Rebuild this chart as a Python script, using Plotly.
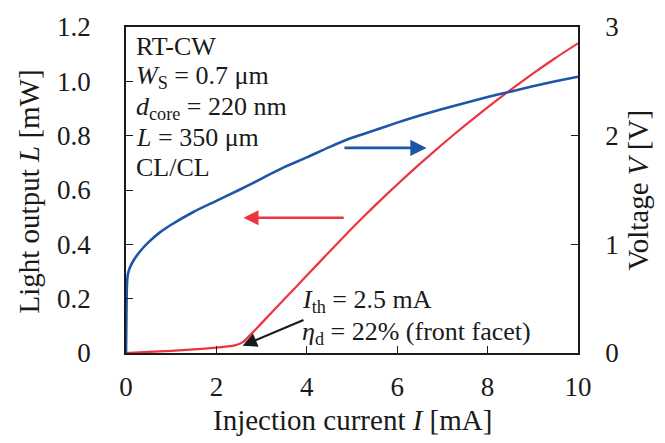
import plotly.graph_objects as go

# Light output L (left axis) vs injection current
current_L = [0, 0.5, 1.0, 1.5, 2.0, 2.3, 2.4, 2.5, 2.6, 2.7, 2.8, 3.0, 3.5, 4.0, 4.5, 5.0,
             5.5, 6.0, 6.5, 7.0, 7.5, 8.0, 8.5, 9.0, 9.5, 10.0]
light_L = [0, 0.004, 0.008, 0.013, 0.020, 0.025, 0.028, 0.033, 0.042, 0.058, 0.075, 0.110,
           0.198, 0.285, 0.373, 0.459, 0.5415, 0.6205, 0.696, 0.7685, 0.838, 0.9045, 0.968,
           1.0285, 1.086, 1.140]

# Voltage V (right axis) vs injection current
current_V = [0, 0.01, 0.02, 0.04, 0.08, 0.15, 0.3, 0.5, 0.75, 1.0, 1.5, 2.0, 2.5, 3.0, 3.5,
             4.0, 4.5, 5.0, 5.5, 6.0, 6.5, 7.0, 7.5, 8.0, 8.5, 9.0, 9.5, 10.0]
voltage_V = [0, 0.35, 0.62, 0.72, 0.78, 0.84, 0.93, 1.02, 1.11, 1.18, 1.30, 1.40, 1.50,
             1.605, 1.71, 1.80, 1.895, 1.98, 2.05, 2.12, 2.185, 2.245, 2.30, 2.355, 2.405,
             2.455, 2.50, 2.543]

x_ticks = [0, 2, 4, 6, 8, 10]
yL_ticks = [0, 0.2, 0.4, 0.6, 0.8, 1.0, 1.2]
yL_labels = ["0", "0.2", "0.4", "0.6", "0.8", "1.0", "1.2"]
yV_ticks = [0, 1, 2, 3]

RED = "#ee3340"
BLUE = "#1f55a8"
INK = "#1a1a1a"
FONT = "Liberation Serif, Times New Roman, serif"

fig = go.Figure()
fig.add_trace(go.Scatter(x=current_L, y=light_L, mode="lines",
                         line=dict(color=RED, width=2.2, shape="spline", smoothing=0.5),
                         yaxis="y", showlegend=False))
fig.add_trace(go.Scatter(x=current_V, y=voltage_V, mode="lines",
                         line=dict(color=BLUE, width=2.6, shape="spline", smoothing=0.7),
                         yaxis="y2", showlegend=False))

axis_common = dict(showline=True, linecolor=INK, linewidth=1.5, ticks="inside",
                   ticklen=7, tickwidth=1.3, tickcolor=INK, showgrid=False, zeroline=False,
                   tickfont=dict(family=FONT, size=27, color=INK))

W, H = 665, 443
l, r, t, b = 126, 87, 20, 90
pw, ph = W - l - r, H - t - b

fig.update_layout(
    width=W, height=H,
    margin=dict(l=l, r=r, t=t, b=b),
    paper_bgcolor="white", plot_bgcolor="white",
    xaxis=dict(range=[0, 10], tickvals=x_ticks, mirror=True, ticklabelstandoff=9,
               **axis_common),
    yaxis=dict(range=[0, 1.2], tickvals=yL_ticks, ticktext=yL_labels,
               ticklabelstandoff=28, **axis_common),
    yaxis2=dict(range=[0, 3], tickvals=yV_ticks, overlaying="y", side="right",
                ticklabelstandoff=20, **axis_common),
)

def px(xp): return (xp - l) / pw
def py(yp): return (H - b - yp) / ph

def txt(x, y, text, size=26):
    fig.add_annotation(x=x, y=y, xref="x", yref="y", text=text, showarrow=False,
                       xanchor="left", yanchor="middle",
                       font=dict(family=FONT, size=size, color=INK))

txt(0.17, 1.128, "RT-CW")
txt(0.17, 1.017, "<i>W</i><sub>S</sub> = 0.7 μm")
txt(0.17, 0.903, "<i>d</i><sub>core</sub> = 220 nm")
txt(0.17, 0.792, "<i>L</i> = 350 μm")
txt(0.17, 0.682, "CL/CL")
txt(3.85, 0.190, "<i>I</i><sub>th</sub> = 2.5 mA")
txt(3.85, 0.074, "<i>η</i><sub>d</sub> = 22% (front facet)")

def arrow(x, y, ax, ay, color, width, size):
    fig.add_annotation(x=x, y=y, ax=ax, ay=ay, xref="x", yref="y", axref="x", ayref="y",
                       text="", showarrow=True, arrowhead=2, arrowsize=size,
                       arrowwidth=width, arrowcolor=color, standoff=0)

arrow(6.65, 0.755, 4.8, 0.755, BLUE, 2.6, 1.25)
arrow(2.6, 0.498, 4.85, 0.498, RED, 2.4, 1.25)
arrow(2.58, 0.027, 3.96, 0.124, INK, 2.2, 1.3)

# axis titles
fig.add_annotation(x=px(352), y=py(421), xref="paper", yref="paper", showarrow=False,
                   text="Injection current <i>I</i> [mA]", xanchor="center", yanchor="middle",
                   font=dict(family=FONT, size=29, color=INK))
fig.add_annotation(x=px(29), y=py(188), xref="paper", yref="paper", showarrow=False,
                   text="Light output <i>L</i> [mW]", textangle=-90,
                   xanchor="center", yanchor="middle",
                   font=dict(family=FONT, size=29, color=INK))
fig.add_annotation(x=px(638), y=py(187), xref="paper", yref="paper", showarrow=False,
                   text="Voltage <i>V</i> [V]", textangle=-90,
                   xanchor="center", yanchor="middle",
                   font=dict(family=FONT, size=29, color=INK))

fig.write_html("out.html")
